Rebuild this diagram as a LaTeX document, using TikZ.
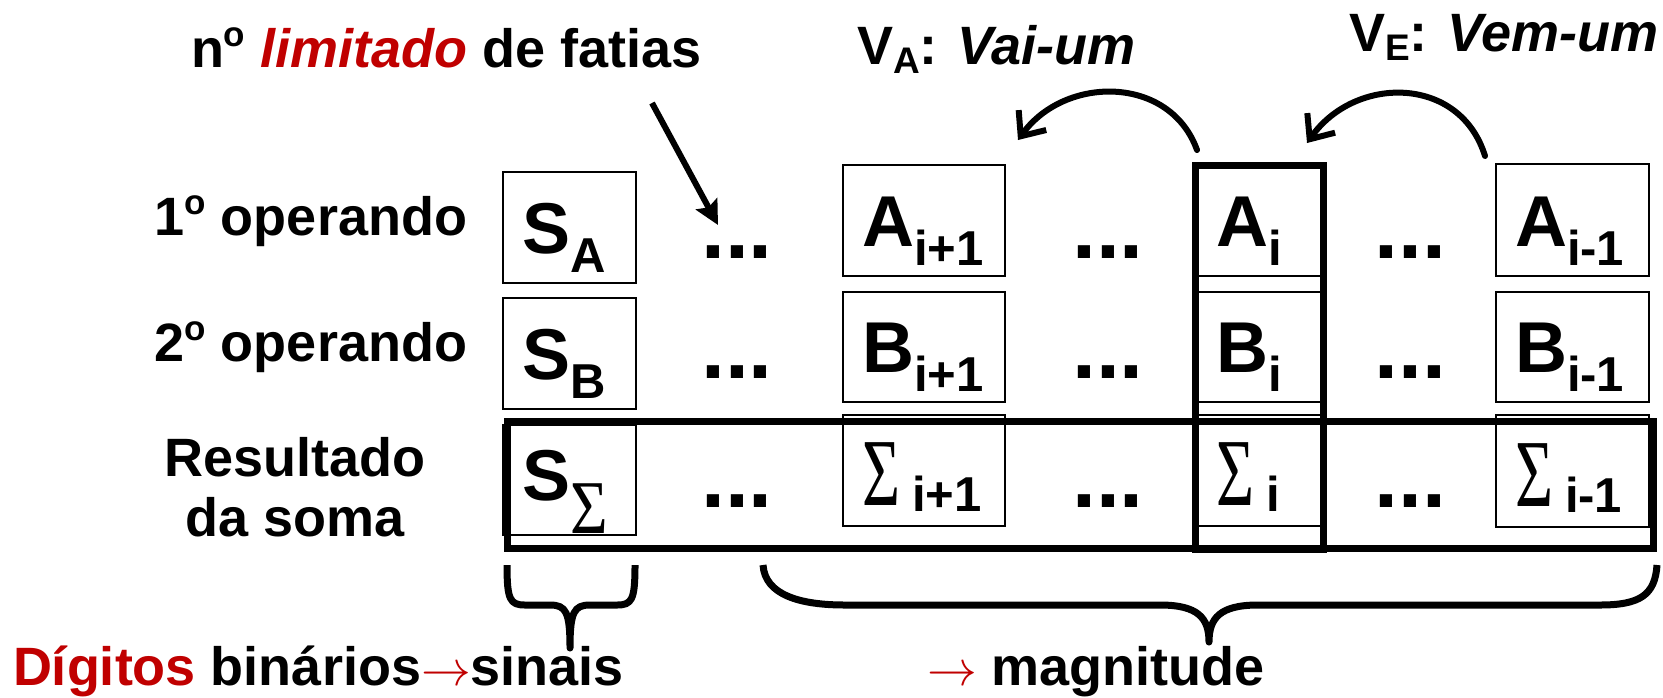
\documentclass[tikz,border=0pt]{standalone}
\usepackage{fontspec}
\setmainfont{Liberation Sans}
\newfontfamily\sigfont{Liberation Serif}
\usepackage{graphicx}
\usetikzlibrary{arrows.meta,calc}
\definecolor{dred}{RGB}{192,0,0}
\newcommand\subf[1]{{\fontsize{24.5}{24.5}\selectfont #1}}
\newcommand\cellt[2]{{\fontsize{36}{36}\selectfont #1}\raisebox{-9.5pt}{\subf{#2}}}
\newcommand\bigsig{\raisebox{-6.5pt}{\scalebox{0.68}[1]{\sigfont\mdseries\upshape\fontsize{48}{48}\selectfont Σ}}\hspace{6pt}}
\newcommand\smallsig{\raisebox{-16.5pt}{\scalebox{0.85}[1]{\sigfont\mdseries\upshape\fontsize{38}{38}\selectfont Σ}}}
\newcommand\ordo{\raisebox{10.5pt}{\fontsize{17.5}{17.5}\selectfont o}}
\newcommand\subsc[1]{\raisebox{-4.5pt}{\fontsize{18.5}{18.5}\selectfont #1}}
\begin{document}
\begin{tikzpicture}[x=0.5pt,y=-0.5pt,
  every node/.style={inner sep=0pt, outer sep=0pt, font=\bfseries\fontsize{27}{27}\selectfont},
  cell/.style={draw, line width=1pt},
  heavybox/.style={draw, line width=3.5pt},
  txt/.style={anchor=base west},
  dots/.style={anchor=base, font=\bfseries\fontsize{43}{43}\selectfont},
  lbl/.style={anchor=base east},
  pointer/.style={line width=3pt, -{Stealth[length=12pt,width=12pt,inset=2pt]}},
  carry/.style={line width=3pt, line cap=round, -{Straight Barb[length=10pt,width=17pt]}},
  brace/.style={line width=3.5pt, line join=round}]
\useasboundingbox (0,0) rectangle (1663,697);

% sign column
\node[cell, minimum width=66.5pt, minimum height=55.5pt] (SA) at (569.5,227.5) {};
\node[cell, minimum width=66.5pt, minimum height=55.5pt] (SB) at (569.5,353.5) {};
\node[cell, minimum width=66.5pt, minimum height=55pt] (SS) at (569.5,480) {};
% column i+1
\node[cell, minimum width=81pt, minimum height=55.5pt] (A1) at (924,220.5) {};
\node[cell, minimum width=81pt, minimum height=55pt] (B1) at (924,347) {};
\node[cell, minimum width=81pt, minimum height=55.5pt] (S1) at (924,470.5) {};
% column i
\node[cell, minimum width=62pt, minimum height=55.5pt] (A2) at (1259,220.5) {};
\node[cell, minimum width=62pt, minimum height=55pt] (B2) at (1259,347) {};
\node[cell, minimum width=62pt, minimum height=55.5pt] (S2) at (1259,470.5) {};
% column i-1
\node[cell, minimum width=76.5pt, minimum height=56pt] (A3) at (1572.5,220) {};
\node[cell, minimum width=76.5pt, minimum height=55pt] (B3) at (1572.5,347) {};
\node[cell, minimum width=76.5pt, minimum height=56pt] (S3) at (1572.5,471) {};

% cell texts
\node[txt] (tSA) at ($(SA.south west)+(19,-30)$) {\cellt{S}{A}};
\node[txt] (tSB) at ($(SB.south west)+(19,-30)$) {\cellt{S}{B}};
\node[txt] (tSS) at ($(SS.south west)+(19,-35)$) {{\fontsize{36}{36}\selectfont S}\smallsig};
\node[txt] (tA1) at ($(A1.south west)+(19,-30)$) {\cellt{A}{i+1}};
\node[txt] (tB1) at ($(B1.south west)+(19,-30)$) {\cellt{B}{i+1}};
\node[txt] (tS1) at ($(S1.south west)+(19,-34)$) {\bigsig\raisebox{-9.5pt}{\subf{i+1}}};
\node[txt] (tA2) at ($(A2.south west)+(19,-30)$) {\cellt{A}{i}};
\node[txt] (tB2) at ($(B2.south west)+(19,-30)$) {\cellt{B}{i}};
\node[txt] (tS2) at ($(S2.south west)+(19,-34)$) {\bigsig\raisebox{-9.5pt}{\subf{i}}};
\node[txt] (tA3) at ($(A3.south west)+(19,-30)$) {\cellt{A}{i-1}};
\node[txt] (tB3) at ($(B3.south west)+(19,-30)$) {\cellt{B}{i-1}};
\node[txt] (tS3) at ($(S3.south west)+(19,-34)$) {\bigsig\raisebox{-9.5pt}{\subf{i-1}}};

% heavy outlines
\node[heavybox, minimum width=573pt, minimum height=63.5pt] (res) at (1080,485) {};
\node[heavybox, minimum width=63.75pt, minimum height=191.75pt] (col) at (1259.25,357.25) {};

% dots
\node[dots] (d11) at (737,258) {...};
\node[dots] (d12) at (1108,258) {...};
\node[dots] (d13) at (1410,258) {...};
\node[dots] (d21) at (737,378) {...};
\node[dots] (d22) at (1108,378) {...};
\node[dots] (d23) at (1410,378) {...};
\node[dots] (d31) at (737,507) {...};
\node[dots] (d32) at (1108,507) {...};
\node[dots] (d33) at (1410,507) {...};

% row labels
\node[lbl] (l1) at (467,235) {1\ordo\ operando};
\node[lbl] (l2) at (467,361) {2\ordo\ operando};
\node[anchor=base] (l3a) at (295,476) {Resultado};
\node[anchor=base] (l3b) at (295,536) {da soma};

% top texts
\node[txt] (fatias) at (191,67) {n\ordo\ {\color{dred}\itshape limitado} de fatias};
\node[txt] (va) at (857,64) {V\subsc{A}: \textit{Vai-um}};
\node[txt] (ve) at (1349,51) {V\subsc{E}: \textit{Vem-um}};

% arrows
\coordinate (p1) at (652,103);
\coordinate (p2) at (718,225);
\draw[pointer] (p1) -- (p2);
\coordinate (c1s) at (1197,150);
\coordinate (c1e) at (1018,140);
\draw[carry] (c1s) .. controls (1170,75) and (1065,75) .. (c1e);
\coordinate (c2s) at (1485,156);
\coordinate (c2e) at (1307,143);
\draw[carry] (c2s) .. controls (1460,75) and (1355,75) .. (c2e);

% braces
\draw[brace] (507,565) .. controls (507,600) and (510,605) .. (525,605) -- (550,605)
  .. controls (566,605) and (570,612) .. (570,648)
  .. controls (570,612) and (574,605) .. (590,605) -- (617,605)
  .. controls (632,605) and (635,600) .. (635,565);
\draw[brace] (763,565) .. controls (765,595) and (800,605) .. (845,605) -- (1160,605)
  .. controls (1198,605) and (1209,618) .. (1209,642)
  .. controls (1209,618) and (1220,605) .. (1258,605) -- (1600,605)
  .. controls (1640,605) and (1655,595) .. (1657,565);

% bottom texts
\node[txt] (dig) at (13,685) {{\color{dred}Dígitos} binários{\color{dred}$\rightarrow$}sinais};
\node[txt] (mag) at (927,685) {{\color{dred}$\rightarrow$} magnitude};
\end{tikzpicture}
\end{document}
